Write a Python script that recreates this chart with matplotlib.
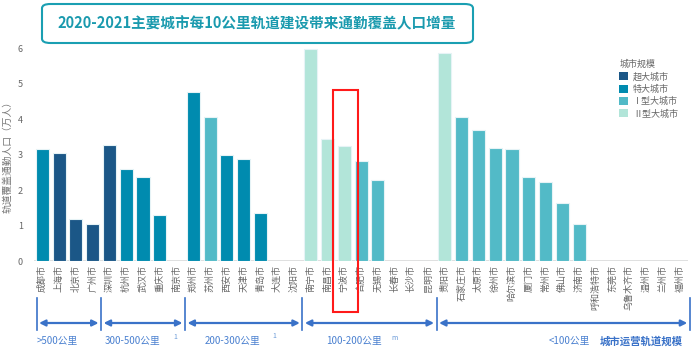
import matplotlib
matplotlib.use('Agg')
import matplotlib.pyplot as plt
from matplotlib.patches import Patch, FancyBboxPatch, Rectangle
from matplotlib.transforms import blended_transform_factory

plt.rcParams['font.family'] = ['Noto Sans CJK SC', 'DejaVu Sans']

cities = ['成都市', '上海市', '北京市', '广州市', '深圳市', '杭州市', '武汉市', '重庆市', '南京市',
          '郑州市', '苏州市', '西安市', '天津市', '青岛市', '大连市', '沈阳市',
          '南宁市', '南昌市', '宁波市', '合肥市', '无锡市', '长春市', '长沙市', '昆明市',
          '贵阳市', '石家庄市', '太原市', '徐州市', '哈尔滨市', '厦门市', '常州市', '佛山市',
          '济南市', '呼和浩特市', '东莞市', '乌鲁木齐市', '温州市', '兰州市', '福州市']
values = [3.15, 3.04, 1.18, 1.03, 3.27, 2.59, 2.36, 1.29, 0,
          4.78, 4.07, 2.98, 2.89, 1.36, 0, 0,
          5.97, 3.45, 3.24, 2.83, 2.28, 0, 0, 0,
          5.86, 4.05, 3.70, 3.19, 3.17, 2.37, 2.22, 1.64,
          1.03, 0, 0, 0, 0, 0, 0]
# city size class: 0 超大, 1 特大, 2 I型大, 3 II型大
size_class = [1, 0, 0, 0, 0, 1, 1, 1, 1,
              1, 2, 1, 1, 1, 1, 1,
              3, 3, 3, 2, 2, 2, 2, 2,
              3, 2, 2, 2, 2, 2, 2, 2,
              2, 2, 2, 2, 2, 2, 2]
class_names = ['超大城市', '特大城市', 'Ⅰ型大城市', 'Ⅱ型大城市']
class_colors = ['#1b5787', '#008baf', '#52bac7', '#b2e5d9']

group_labels = ['>500公里', '300-500公里', '200-300公里', '100-200公里', '<100公里']
group_bounds = [-0.35, 3.5, 8.5, 15.5, 23.5, 38.6]
group_label_x = [-0.33, 3.7, 9.7, 16.9, 30.2]

fig = plt.figure(figsize=(7, 3.54), dpi=100)
ax = fig.add_axes([0.0486, 0.2627, 0.9344, 0.601])

x = list(range(len(cities)))
ax.bar(x, values, width=0.78, color=[class_colors[c] for c in size_class],
       edgecolor='#e6f3f6', linewidth=0.8, zorder=2)
ax.axhline(0, color='#d9d9d9', lw=1.2, zorder=1)

ax.set_xlim(-0.5, 38.5)
ax.set_ylim(0, 6)
ax.set_yticks(range(7))
ax.set_xticks(x)
ax.set_xticklabels(cities, rotation=90, fontsize=6.5, color='#666666')
ax.tick_params(axis='both', length=0, labelsize=6.5, labelcolor='#666666')
ax.tick_params(axis='x', pad=3)
ax.tick_params(axis='y', pad=8)
for s in ax.spines.values():
    s.set_visible(False)
ax.set_ylabel('轨道覆盖通勤人口（万人）', fontsize=7, color='#777777', labelpad=4)

handles = [Patch(facecolor=c, edgecolor='none') for c in class_colors]
leg = ax.legend(handles, class_names, title='城市规模', loc='upper left',
                bbox_to_anchor=(0.873, 0.855), bbox_transform=fig.transFigure,
                frameon=False, fontsize=6.5, title_fontsize=6.5,
                handlelength=1.0, handleheight=1.0, labelspacing=0.35,
                handletextpad=0.5, alignment='left')
for t in leg.get_texts():
    t.set_color('#666666')
leg.get_title().set_color('#666666')

# red highlight around 宁波
hx = cities.index('宁波市')
trans = blended_transform_factory(ax.transData, fig.transFigure)
ax.add_patch(Rectangle((hx - 0.65, 1 - 312 / 354), 1.45, (312 - 90) / 354,
                       transform=trans, fill=False, edgecolor='#ff1a1a', lw=1.5,
                       clip_on=False, zorder=5))

# group brackets
blue = '#3a72c8'
for b in group_bounds:
    ax.plot([b, b], [1 - 298 / 354, 1 - 330 / 354], transform=trans, color=blue,
            lw=1.2, clip_on=False)
for i in range(len(group_labels)):
    a, b = group_bounds[i], group_bounds[i + 1]
    ax.annotate('', xy=(b - 0.15, 1 - 323 / 354), xytext=(a + 0.15, 1 - 323 / 354),
                xycoords=trans, textcoords=trans,
                arrowprops=dict(arrowstyle='<|-|>', color=blue, lw=1.6,
                                mutation_scale=9, shrinkA=0, shrinkB=0))
    ax.text(group_label_x[i], 1 - 341 / 354, group_labels[i], transform=trans,
            fontsize=7, color='#4a80d0', ha='left', va='center')
ax.text(38.2, 1 - 341 / 354, '城市运营轨道规模', transform=trans, fontsize=7.5,
        color=blue, ha='right', va='center', fontweight='bold')
# small stray marks in the source
for sx, sy, st in [(7.9, 337, '1'), (13.8, 336, '1'), (21.0, 338, 'm')]:
    ax.text(sx, 1 - sy / 354, st, transform=trans, fontsize=5, color='#6a9ad8',
            ha='center', va='center')

# title box
box = FancyBboxPatch((42 / 700, 1 - 43 / 354), (473 - 42) / 700, 39 / 354,
                     boxstyle='round,pad=0,rounding_size=0.012',
                     transform=fig.transFigure, facecolor='white',
                     edgecolor='#1a9fb2', lw=1.5, zorder=10)
fig.patches.append(box)
fig.text(257 / 700, 1 - 23 / 354, '2020-2021主要城市每10公里轨道建设带来通勤覆盖人口增量',
         ha='center', va='center', fontsize=10.5, fontweight='bold', color='#1a9aae',
         zorder=11)

fig.savefig('out.png', dpi=100)
